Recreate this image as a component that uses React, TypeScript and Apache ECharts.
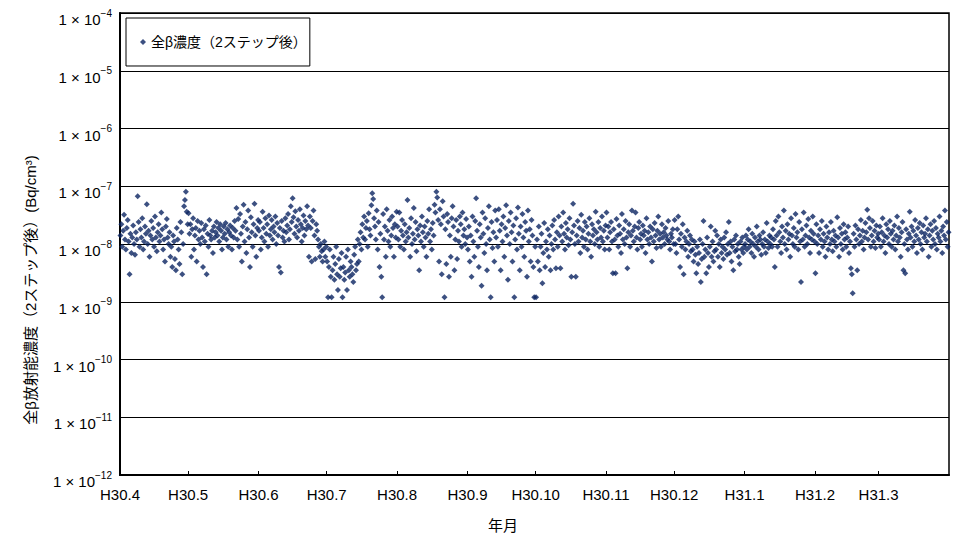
import React, { useEffect, useRef } from "react";
import * as echarts from "echarts";

// Values in units of 1e-9 Bq/cm3, in time order within each month
const UNIT = 1e-9;

const apr2018 = [14, 22, 9, 17, 32, 12, 8, 19, 26, 11, 3, 15, 7, 13, 21, 10, 6.5, 16, 12, 67, 24, 9, 18, 13, 28, 8, 11, 20, 15, 49, 10, 17, 6, 14, 25, 12, 19, 9, 30, 13, 7.5, 16, 22, 11, 14, 35, 18, 8, 12, 5, 20, 27, 13, 10, 16, 6, 9, 4, 14, 11, 5.5, 3.5, 19, 12, 8, 4.5, 24, 16, 3, 10, 45, 58, 80, 36, 22];
const may2018 = [34, 15, 22, 6, 18, 28, 8, 14, 19, 5, 25, 12, 17, 10, 23, 13, 4, 18, 11, 21, 3, 15, 9, 26, 14, 12, 17, 7, 20, 13, 16, 24, 14, 19, 11, 22, 17, 8, 13, 20, 15, 23, 12, 18, 9, 16, 21, 14, 8, 19, 13, 25, 17, 42, 12, 27, 9, 33, 15, 5, 20, 48, 11, 24, 7, 18, 38, 13, 4, 29, 16, 9, 22, 50, 14, 6, 19, 26];
const jun2018 = [17, 24, 8, 13, 36, 19, 11, 28, 15, 22, 9, 31, 14, 18, 26, 12, 20, 16, 30, 10, 23, 14, 4, 19, 3.2, 25, 13, 17, 11, 28, 16, 21, 33, 12, 18, 45, 24, 62, 29, 15, 37, 20, 13, 26, 17, 40, 22, 11, 19, 31, 14, 25, 18, 45, 21, 6, 30, 19, 5, 25, 38, 14, 5.5, 22, 17, 12, 9, 6, 10, 7.5, 5, 8, 11, 6, 9];
const jul2018 = [5, 1.2, 4, 8, 2.7, 1.2, 3.5, 6, 2.4, 4.5, 9, 3, 1.6, 5.5, 2.7, 3.8, 7, 1.2, 4, 2.4, 3.2, 6, 1.6, 8, 3.5, 2.7, 5, 4, 3, 2.2, 6.5, 9, 3.5, 4.5, 12, 5, 10, 16, 8, 22, 13, 30, 12, 19, 25, 9, 34, 18, 14, 47, 76, 60, 28, 20, 12, 38, 8, 24, 4, 15, 2.7, 1.2, 33, 12, 20, 6, 40, 17, 11, 26, 9, 14, 30, 19, 6, 22, 13, 36];
const aug2018 = [20, 12, 35, 9, 17, 26, 14, 8, 22, 11, 16, 58, 13, 19, 6, 28, 10, 15, 42, 12, 24, 7.5, 18, 14, 3.5, 21, 11, 30, 16, 9, 20, 13, 6, 25, 15, 40, 11, 18, 8, 23, 14, 48, 35, 80, 64, 26, 5, 40, 22, 3, 55, 30, 1.2, 18, 4.5, 33, 24, 2.7, 14, 6, 28, 45, 20, 3.5, 12, 26, 5.5, 17, 11, 30, 22, 9, 35, 14, 18, 10, 27, 13];
const sep2018 = [8, 20, 5, 14, 2.7, 30, 11, 6, 25, 62, 17, 9, 4, 22, 13, 1.9, 35, 15, 7, 28, 10, 3.5, 19, 45, 12, 1.2, 24, 8.5, 16, 5, 38, 13, 26, 9, 40, 17, 3.5, 22, 11, 30, 6, 19, 47, 14, 2.4, 25, 10, 35, 16, 5, 21, 1.2, 12, 28, 8, 43, 15, 3.5, 20, 9, 33, 13, 6, 24, 17, 2.7, 38, 11, 18, 5, 26, 14, 4, 1.2, 9];
const oct2018 = [1.2, 12, 5, 20, 3.5, 9, 15, 2.1, 7, 23, 4, 11, 8, 18, 6, 14, 3.5, 10, 21, 8, 26, 12, 3.8, 16, 9, 30, 14, 3.8, 20, 11, 35, 15, 8, 23, 13, 18, 9.5, 28, 12, 2.7, 16, 50, 21, 10, 2.7, 14, 25, 11, 19, 7, 32, 13, 17, 9, 24, 12, 20, 8, 15, 28, 11, 6, 22, 14, 18, 10, 36, 16, 12, 24, 9, 19, 13, 30, 11, 17, 8, 21];
const nov2018 = [35, 13, 20, 8, 16, 24, 11, 3.1, 18, 12, 3.1, 27, 14, 9, 21, 15, 7, 33, 12, 18, 10, 25, 13, 3.8, 16, 22, 9, 14, 38, 17, 11, 20, 35, 13, 8, 19, 24, 12, 15, 9, 21, 14, 17, 7, 28, 12, 16, 10, 20, 13, 5, 18, 11, 23, 14, 8.5, 17, 30, 12, 15, 9, 22, 13, 16, 10, 19, 14, 12, 25, 11, 8, 15, 13, 18, 10];
const dec2018 = [26, 10, 7, 18, 30, 12, 4, 15, 9, 22, 3, 13, 8, 11, 17, 6, 10, 14, 7.5, 12, 8, 5, 11, 6.5, 3.1, 9, 4.5, 7, 12, 2.2, 5.5, 10, 25, 6, 8, 3.1, 13, 7, 4, 9, 20, 6, 11, 5, 7.5, 17, 8, 14, 6, 10, 4, 12, 7, 9, 5.5, 13, 8, 16, 6.5, 10, 24, 7, 11, 5, 9, 3.5, 12, 7.5, 14, 8, 10, 6, 4.5, 11, 8, 13, 7, 9];
const jan2019 = [10, 14, 8, 12, 18, 9, 11, 7, 15, 10, 6, 13, 9, 20, 11, 8, 14, 12, 6.5, 10, 16, 9, 12, 7, 23, 11, 8.5, 14, 10, 13, 9, 18, 12, 4, 25, 14, 9, 30, 16, 11, 7, 20, 13, 38, 10, 17, 8, 22, 12, 15, 6, 28, 14, 10, 19, 9, 33, 13, 16, 8, 24, 11, 2.2, 18, 12, 35, 9, 14, 21, 10, 27, 13, 7, 17, 12, 30, 15, 11];
const feb2019 = [3.1, 22, 10, 14, 7, 18, 12, 25, 9, 15, 11, 6, 20, 13, 8, 16, 10, 24, 12, 7.5, 17, 11, 14, 9, 29, 13, 6, 19, 10, 15, 8, 22, 12, 16, 9, 13, 20, 7, 11, 3.8, 3, 1.4, 15, 9, 21, 12, 3.5, 18, 10, 14, 26, 11, 17, 8, 13, 23, 16, 39, 12, 28, 19, 9, 14, 25, 11, 17, 8.5, 21, 13, 15];
const mar2019 = [12, 20, 9, 16, 28, 11, 14, 7, 22, 13, 18, 10, 25, 15, 9, 17, 12, 21, 8, 14, 30, 11, 19, 13, 6, 16, 24, 3.5, 10, 3.1, 18, 12, 8, 15, 36, 13, 20, 9, 17, 11, 26, 14, 7, 19, 12, 23, 10, 16, 8, 21, 13, 15, 28, 11, 18, 6, 14, 22, 9, 17, 12, 25, 10, 19, 8, 15, 13, 30, 11, 17, 7, 20, 14, 38, 12, 24, 9, 16];

const monthLabels = ["H30.4", "H30.5", "H30.6", "H30.7", "H30.8", "H30.9", "H30.10", "H30.11", "H30.12", "H31.1", "H31.2", "H31.3"];
const monthYears = [2018, 2018, 2018, 2018, 2018, 2018, 2018, 2018, 2018, 2019, 2019, 2019];
const monthIdx = [3, 4, 5, 6, 7, 8, 9, 10, 11, 0, 1, 2];
const seriesName = "全β濃度（2ステップ後）";
const yName = "全β放射能濃度（2ステップ後）(Bq/cm³)";
const xName = "年月";

const monthValues = [apr2018, may2018, jun2018, jul2018, aug2018, sep2018, oct2018, nov2018, dec2018, jan2019, feb2019, mar2019];

const FONT = "'Liberation Sans', Arial, 'Noto Sans CJK JP', sans-serif";

export default function App() {
  const ref = useRef<HTMLDivElement>(null);
  useEffect(() => {
    if (!ref.current) return;
    const chart = echarts.init(ref.current, undefined, { renderer: "svg" });
    const DAY = 86400000;
    const tickTimes = monthYears.map((y, i) => Date.UTC(y, monthIdx[i], 1));
    const endTime = Date.UTC(2019, 3, 1);
    const points: [number, number][] = [];
    monthValues.forEach((arr, m) => {
      const start = tickTimes[m];
      const end = m < 11 ? tickTimes[m + 1] : endTime;
      const span = end - start;
      arr.forEach((v, i) => {
        points.push([start + ((i + 0.5) / arr.length) * span, v * UNIT]);
      });
    });
    const labelFor = (val: number) => {
      let best = -1;
      tickTimes.forEach((t, i) => {
        if (Math.abs(t - val) < DAY) best = i;
      });
      return best >= 0 ? monthLabels[best] : "";
    };
    chart.setOption({
      animation: false,
      textStyle: { fontFamily: FONT },
      grid: {
        left: 120,
        right: 13,
        top: 13,
        bottom: 64,
        show: true,
        borderColor: "#000",
        borderWidth: 1.5,
        backgroundColor: "#fff",
      },
      legend: {
        left: 126,
        top: 18,
        orient: "vertical",
        padding: [17, 3, 17, 14],
        itemWidth: 6,
        itemHeight: 6,
        itemGap: 4,
        borderColor: "#000",
        borderWidth: 1,
        backgroundColor: "#fff",
        textStyle: { fontSize: 14, color: "#000", fontFamily: FONT },
        data: [{ name: seriesName, icon: "diamond" }],
      },
      xAxis: {
        type: "value",
        min: tickTimes[0],
        max: endTime,
        axisLine: { lineStyle: { color: "#000", width: 2 } },
        axisTick: {
          inside: true,
          length: 4,
          lineStyle: { color: "#000" },
          customValues: tickTimes,
        },
        axisLabel: {
          customValues: tickTimes,
          formatter: (v: number) => labelFor(v),
          fontSize: 15,
          color: "#000",
          margin: 12,
          fontFamily: FONT,
        },
        splitLine: { show: false },
      },
      yAxis: {
        type: "log",
        logBase: 10,
        min: 1e-12,
        max: 1e-4,
        splitNumber: 8,
        axisLine: { show: true, lineStyle: { color: "#000", width: 2 } },
        axisTick: { show: false },
        splitLine: { show: true, lineStyle: { color: "#000", width: 1 } },
        axisLabel: {
          margin: 8,
          color: "#000",
          padding: [9, 0, 0, 0],
          formatter: (v: number) => {
            const e = Math.round(Math.log10(v));
            return `{m|1 × 10}{e|${e < 0 ? "−" : ""}${Math.abs(e)}}`;
          },
          rich: {
            m: { fontSize: 15, fontFamily: FONT, color: "#000", verticalAlign: "bottom", padding: [4, 0, 0, 0] },
            e: { fontSize: 10, fontFamily: FONT, color: "#000", verticalAlign: "top", lineHeight: 12 },
          },
        },
      },
      graphic: [
        {
          type: "text",
          x: 30,
          y: 290,
          rotation: Math.PI / 2,
          style: {
            text: yName,
            fontSize: 15,
            fontFamily: FONT,
            fill: "#000",
            textAlign: "center",
            textVerticalAlign: "middle",
          },
        },
        {
          type: "text",
          x: 503,
          y: 525,
          style: {
            text: xName,
            fontSize: 15,
            fontFamily: FONT,
            fill: "#000",
            textAlign: "center",
            textVerticalAlign: "middle",
          },
        },
      ],
      series: [
        {
          name: seriesName,
          type: "scatter",
          symbol: "diamond",
          symbolSize: 6,
          itemStyle: { color: "#0b2461" },
          data: points,
        },
      ],
    });
    return () => chart.dispose();
  }, []);
  return (
    <div
      ref={ref}
      style={{ position: "fixed", left: 0, top: 0, width: 962, height: 539, background: "#fff" }}
    />
  );
}
